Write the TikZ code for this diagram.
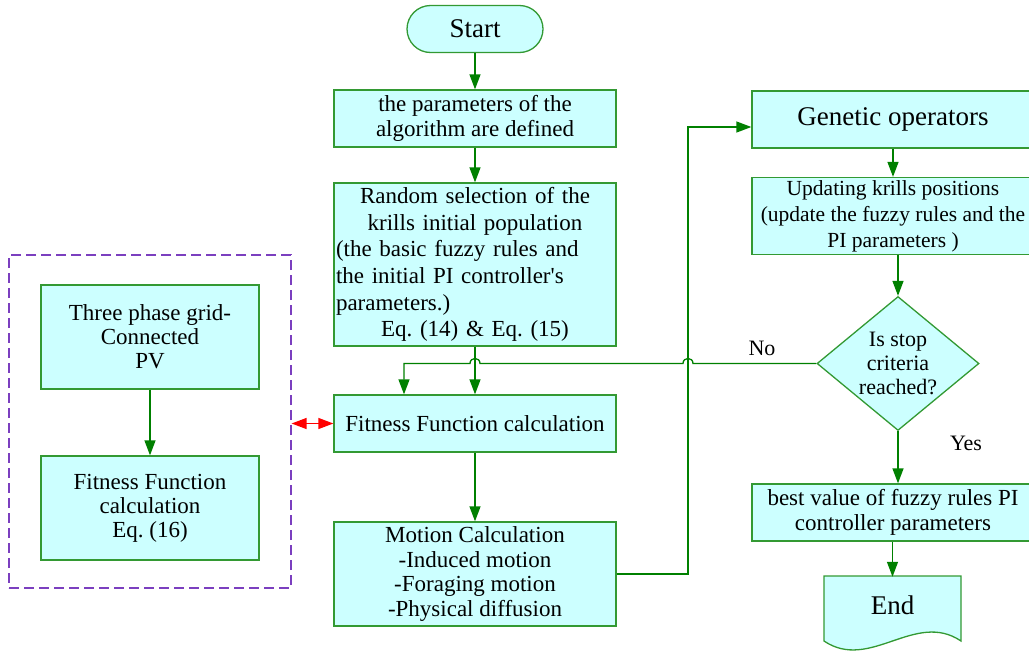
\documentclass[tikz,border=0pt]{standalone}
\usepackage{fontspec}
\setmainfont{Liberation Serif}[Ligatures=TeXOff]
\usetikzlibrary{arrows.meta,shapes.geometric}
\definecolor{boxfill}{HTML}{CCFFFF}
\definecolor{boxline}{HTML}{339933}
\definecolor{arrowgreen}{HTML}{008000}
\definecolor{dashpurple}{HTML}{7B3FBF}
\frenchspacing
\begin{document}
\begin{tikzpicture}[x=1pt,y=-1pt,
  box/.style={draw=boxline, fill=boxfill, line width=1.3pt, inner sep=2pt, align=center, font=\fontsize{23}{25}\selectfont},
  bigtxt/.style={font=\fontsize{27}{30}\selectfont},
  flow/.style={draw=arrowgreen, line width=1.3pt, -{Triangle[width=11pt,length=15pt]}},
  lbl/.style={font=\fontsize{22}{25}\selectfont, inner sep=0pt}]
\useasboundingbox (0,0) rectangle (1029,656);
\clip (0,0) rectangle (1029,656);

% main column
\node[box, bigtxt, rounded corners=23.5pt, minimum width=136pt, minimum height=47pt] (start) at (475,29) {Start};
\node[box, minimum width=282pt, minimum height=57pt] (param) at (475,118.5) {the parameters of the\\algorithm are defined};
\node[box, minimum width=282pt, minimum height=163pt, text width=278pt, align=left, font=\fontsize{23}{26.6}\selectfont] (random) at (475,264.5)
  {\centering Random selection of the\\krills initial population\par\raggedright (the basic fuzzy rules and\\the initial PI controller's\\parameters.)\par\centering Eq. (14) \& Eq. (15)\par};
\node[box, minimum width=282pt, minimum height=57pt] (fit) at (475,423.5) {Fitness Function calculation};
\node[box, minimum width=282pt, minimum height=104pt, font=\fontsize{23}{24.5}\selectfont] (motion) at (475,574) {Motion Calculation\\-Induced motion\\-Foraging motion\\-Physical diffusion};

% right column
\node[box, bigtxt, minimum width=282pt, minimum height=57pt] (gen) at (893,119.5) {Genetic operators};
\node[box, minimum width=282pt, minimum height=77pt, font=\fontsize{21.5}{26}\selectfont] (upd) at (893,216) {Updating krills positions\\(update the fuzzy rules and the\\PI parameters )};
\node[box, diamond, aspect=1.2, minimum width=162pt, minimum height=134pt, inner sep=0pt, font=\fontsize{22}{24}\selectfont] (dia) at (898,363.5) {Is stop\\criteria\\reached?};
\node[box, minimum width=282pt, minimum height=57pt] (best) at (893,512.5) {best value of fuzzy rules PI\\controller parameters};
\draw[draw=boxline, fill=boxfill, line width=1.3pt] (824,576) -- (961,576) -- (961,641) .. controls (915,610) and (870,672) .. (824,641) -- cycle;
\node[bigtxt, minimum width=137pt, minimum height=56pt, inner sep=0pt] (end) at (892.5,605) {End};

% left group
\node[draw=dashpurple, line width=1.2pt, dash pattern=on 10pt off 5pt, minimum width=282pt, minimum height=333pt] (group) at (150,421.5) {};
\node[box, minimum width=218pt, minimum height=104pt, font=\fontsize{23}{24}\selectfont] (pv) at (150,337) {Three phase grid-\\Connected\\PV};
\node[box, minimum width=218pt, minimum height=104pt, font=\fontsize{23}{24}\selectfont] (fitl) at (150,508) {Fitness Function\\calculation\\Eq. (16)};

% labels
\node[lbl] (no) at (762,348) {No};
\node[lbl] (yes) at (966,443) {Yes};

% connectors
\draw[flow] (start) -- (param);
\draw[flow] (param) -- (random);
\draw[flow] (random) -- (fit);
\draw[flow] (fit) -- (motion);
\coordinate (c1) at (688,127);
\draw[flow] (motion.east) -| (c1) -- (c1 -| gen.west);
\draw[flow] (gen) -- (upd);
\draw[flow] (upd.south -| dia.north) -- (dia.north);
\draw[flow] (dia.south) -- (best.north -| dia.south);
\draw[flow] (best.south -| end.north) -- (end.north);
\coordinate (c2) at (404,363.5);
\draw[flow] (dia.west) -- (693,363.5) .. controls (693,356.8) and (683,356.8) .. (683,363.5)
  -- (480,363.5) .. controls (480,356.8) and (470,356.8) .. (470,363.5)
  -- (c2) -- (c2 |- fit.north);
\draw[red, line width=1.3pt, {Triangle[width=11pt,length=15pt]}-{Triangle[width=11pt,length=15pt]}] (group.east |- fit.west) -- (fit.west);
\draw[flow] (pv) -- (fitl);
\end{tikzpicture}
\end{document}
